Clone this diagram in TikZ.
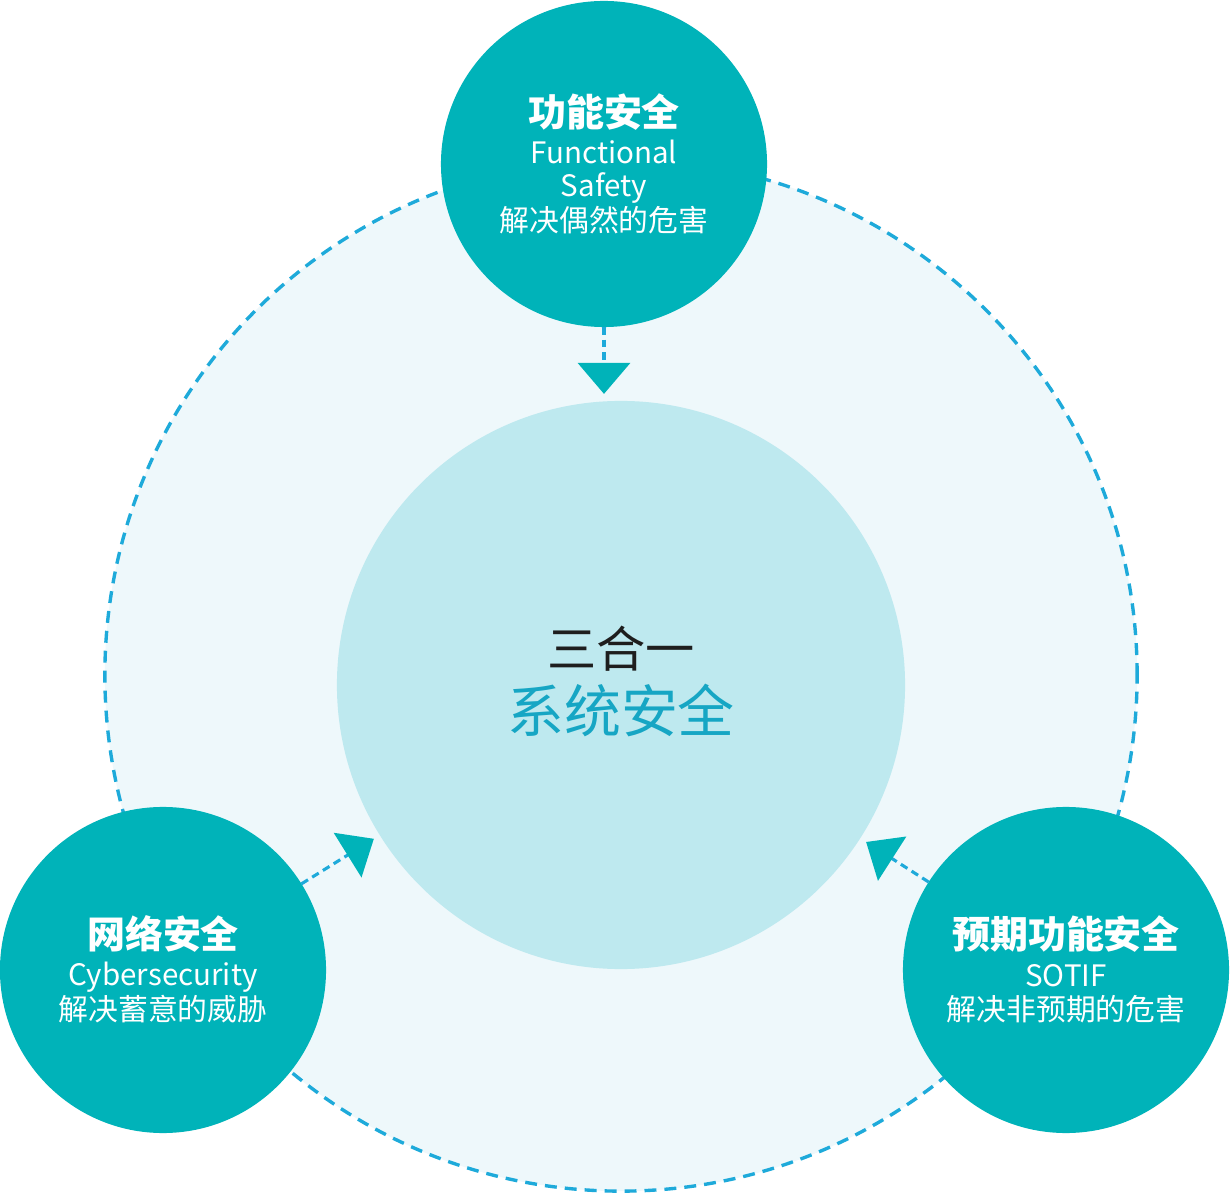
\documentclass[tikz,border=0pt]{standalone}
\usepackage{fontspec}
\setmainfont{Noto Sans CJK SC}
\usetikzlibrary{arrows.meta}
\definecolor{tealc}{RGB}{0,179,185}
\definecolor{centc}{RGB}{190,233,239}
\definecolor{outerc}{RGB}{238,248,251}
\definecolor{dashc}{RGB}{30,170,218}
\definecolor{sysc}{RGB}{22,166,196}
\definecolor{darkt}{RGB}{30,30,30}
\tikzset{
  bigring/.style={circle, inner sep=0pt, outer sep=0pt, minimum size=25.8cm, fill=outerc, draw=dashc, line width=2.4pt, dash pattern=on 8.5pt off 5.7pt},
  core/.style={circle, inner sep=0pt, outer sep=0pt, minimum size=14.2cm, fill=centc},
  pillar/.style={circle, inner sep=0pt, outer sep=0pt, minimum size=8.15cm, fill=tealc},
  conn/.style={draw=dashc, line width=2.2pt, dash pattern=on 5.5pt off 3.5pt, shorten >=5pt, -{Triangle[width=37pt,length=22pt,color=tealc]}},
  ttl/.style={text=white, inner sep=0pt, anchor=base, font=\fontsize{27}{27}\selectfont\bfseries},
  eng/.style={text=white, inner sep=0pt, anchor=base, font=\fontsize{21}{21}\selectfont},
  sub/.style={text=white, inner sep=0pt, anchor=base, font=\fontsize{21.2}{21.2}\selectfont},
}
\begin{document}
\begin{tikzpicture}[x=0.025cm, y=-0.025cm]
\useasboundingbox (0,0) rectangle (1232,1200);
\fill[white] (0,0) rectangle (1232,1200);
\node[bigring] (ring) at (621,675) {};
\node[core] (ctr) at (621,685) {};
\node[pillar] (top) at (604,164) {};
\node[pillar] (lft) at (163,970) {};
\node[pillar] (rgt) at (1066,970) {};
\draw[conn] (top.south) -- (top.south |- ctr.north);
\draw[conn] (lft) -- (ctr);
\draw[conn] (rgt) -- (ctr);
% centre texts
\node[inner sep=0pt, anchor=base, text=darkt, font=\fontsize{35}{35}\selectfont] (t3) at (621,668) {三合一};
\node[inner sep=0pt, anchor=base, text=sysc, font=\fontsize{40.5}{40.5}\selectfont] (tsys) at (621,733) {系统安全};
% top
\node[ttl] (fsT) at (604,127) {功能安全};
\node[eng] (fsE1) at (604,164) {Functional};
\node[eng] (fsE2) at (604,197) {Safety};
\node[sub] (fsS) at (604,232) {解决偶然的危害};
% left
\node[ttl] (csT) at (163,948) {网络安全};
\node[eng] (csE) at (163,985) {Cybersecurity};
\node[sub] (csS) at (163,1020) {解决蓄意的威胁};
% right
\node[ttl] (soT) at (1066,948) {预期功能安全};
\node[eng] (soE) at (1066,986) {SOTIF};
\node[sub] (soS) at (1066,1020) {解决非预期的危害};
\end{tikzpicture}
\end{document}
